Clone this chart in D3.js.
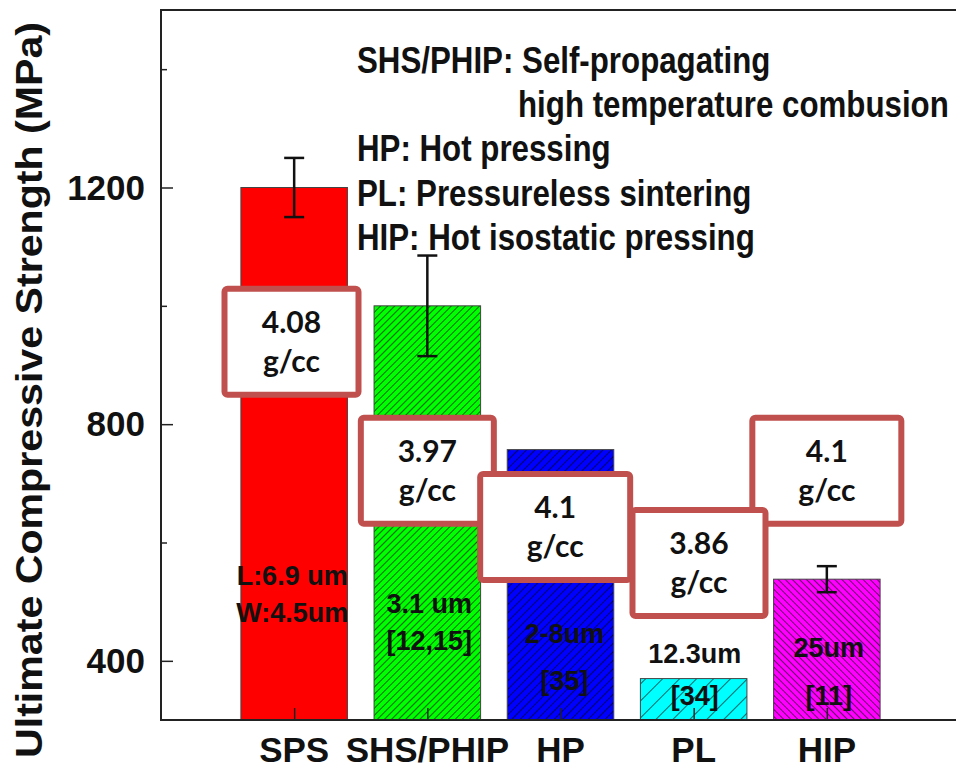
<!DOCTYPE html>
<html>
<head>
<meta charset="utf-8">
<script src="https://cdn.jsdelivr.net/npm/d3@7/dist/d3.min.js"></script>
<style>
  body { margin: 0; background: #fff; }
  svg text { font-family: "Liberation Sans", Arial, sans-serif; fill: #111; }
</style>
</head>
<body>
<svg id="chart" width="956" height="770"></svg>
<script>
// values
var categories = ["SPS", "SHS/PHIP", "HP", "PL", "HIP"];
var strengths = [1200, 1000, 757, 370, 538];
var errors = [50, 85, 0, 0, 22];
var grainLabels = [["L:6.9 um", "W:4.5um"], ["3.1 um", "[12,15]"], ["2-8um", "[35]"], ["12.3um", "[34]"], ["25um", "[11]"]];
var densities = ["4.08", "3.97", "4.1", "3.86", "4.1"];
var yMajorTicks = [400, 800, 1200];
var yMinorTicks = [600, 1000, 1400];
var legendLines = ["SHS/PHIP: Self-propagating", "high temperature combusion", "HP: Hot pressing", "PL: Pressureless sintering", "HIP: Hot isostatic pressing"];

// styling / placement (kept apart from the values)
var barColors = ["#ff0000", "#00ff00", "#0000ff", "#00ffff", "#ff00ff"];
var hatchGap = [0, 5, 6, 12, 5];          // 0 = solid fill
var hatchAngle = [0, 45, 45, 45, -45];
var labelBase = [[528, 466], [481, 418], [430, 351], [396, 325], [406, 325]]; // baselines, in MPa
var labelShift = [-2, 2, 4, 1, 2];
var boxCenter = [0.98, 2.0, 2.96, 4.04, 5.0];   // x units
var boxTop = [1034, 816, 721, 660, 816];        // MPa
var boxWidth = [134, 133, 150, 133, 149];
var boxHeight = 106;
var boxOrder = [0, 1, 2, 4, 3];

var svg = d3.select("#chart");
var margin = {left: 161, top: 10, bottom: 720, right: 960};

var x = d3.scaleLinear().domain([0, 6]).range([margin.left, margin.right]);
var y = d3.scaleLinear().domain([300, 1500]).range([margin.bottom, margin.top]);
var barW = x(0.8) - x(0);

// hatch patterns
var defs = svg.append("defs");
categories.forEach(function(c, i) {
    if (!hatchGap[i]) return;
    var p = defs.append("pattern")
        .attr("id", "hatch" + i)
        .attr("patternUnits", "userSpaceOnUse")
        .attr("width", hatchGap[i]).attr("height", hatchGap[i])
        .attr("patternTransform", "rotate(" + hatchAngle[i] + ")");
    p.append("rect").attr("width", hatchGap[i]).attr("height", hatchGap[i]).attr("fill", barColors[i]);
    p.append("line").attr("x1", 0).attr("y1", 0).attr("x2", 0).attr("y2", hatchGap[i])
        .attr("stroke", "#000").attr("stroke-width", 1.2);
});

// bars
svg.selectAll("rect.bar").data(strengths).enter().append("rect")
    .attr("class", "bar")
    .attr("x", function(d, i) { return x(i + 1) - barW / 2; })
    .attr("y", function(d) { return y(d); })
    .attr("width", barW)
    .attr("height", function(d) { return y(300) - y(d); })
    .attr("fill", function(d, i) { return hatchGap[i] ? "url(#hatch" + i + ")" : barColors[i]; })
    .attr("stroke", "#444").attr("stroke-width", 1);

// error bars
strengths.forEach(function(d, i) {
    if (!errors[i]) return;
    var cx = x(i + 1);
    var g = svg.append("g").attr("stroke", "#111").attr("stroke-width", 2.5);
    g.append("line").attr("x1", cx).attr("x2", cx).attr("y1", y(d + errors[i])).attr("y2", y(d - errors[i]));
    g.append("line").attr("x1", cx - 10).attr("x2", cx + 10).attr("y1", y(d + errors[i])).attr("y2", y(d + errors[i]));
    g.append("line").attr("x1", cx - 10).attr("x2", cx + 10).attr("y1", y(d - errors[i])).attr("y2", y(d - errors[i]));
});

// grain size / reference labels inside the bars
grainLabels.forEach(function(lines, i) {
    lines.forEach(function(t, j) {
        svg.append("text")
            .attr("x", x(i + 1) + labelShift[i])
            .attr("y", y(labelBase[i][j]))
            .attr("text-anchor", "middle")
            .style("font-size", "27px").style("font-weight", "bold")
            .text(t);
    });
});

// frame and axes
svg.append("rect")
    .attr("x", margin.left).attr("y", margin.top)
    .attr("width", margin.right - margin.left).attr("height", margin.bottom - margin.top)
    .attr("fill", "none").attr("stroke", "#222").attr("stroke-width", 2);

var yAxis = d3.axisRight(y).tickValues(yMajorTicks).tickSize(12).tickFormat("");
svg.append("g").attr("transform", "translate(" + margin.left + ",0)").call(yAxis)
    .call(function(g) { g.select(".domain").remove(); g.selectAll("line").attr("stroke", "#222").attr("stroke-width", 1.5); });
var yMinor = d3.axisRight(y).tickValues(yMinorTicks).tickSize(6).tickFormat("");
svg.append("g").attr("transform", "translate(" + margin.left + ",0)").call(yMinor)
    .call(function(g) { g.select(".domain").remove(); g.selectAll("line").attr("stroke", "#222").attr("stroke-width", 1.5); });

svg.selectAll("text.ytick").data(yMajorTicks).enter().append("text")
    .attr("class", "ytick")
    .attr("x", margin.left - 16)
    .attr("y", function(d) { return y(d) + 12; })
    .attr("text-anchor", "end")
    .style("font-size", "35px").style("font-weight", "bold")
    .text(function(d) { return d; });

var xAxis = d3.axisTop(x).tickValues([1, 2, 3, 4, 5]).tickSize(12).tickFormat("");
svg.append("g").attr("transform", "translate(0," + margin.bottom + ")").call(xAxis)
    .call(function(g) { g.select(".domain").remove(); g.selectAll("line").attr("stroke", "#222").attr("stroke-width", 1.5); });

svg.selectAll("text.xlab").data(categories).enter().append("text")
    .attr("class", "xlab")
    .attr("x", function(d, i) { return x(i + 1); })
    .attr("y", 762)
    .attr("text-anchor", "middle")
    .style("font-size", "35px").style("font-weight", "bold")
    .text(function(d) { return d; });

svg.append("text")
    .attr("transform", "translate(42,390) rotate(-90)")
    .attr("text-anchor", "middle")
    .attr("textLength", 736).attr("lengthAdjust", "spacingAndGlyphs")
    .style("font-size", "36px").style("font-weight", "bold")
    .text("Ultimate Compressive Strength (MPa)");

// density call-out boxes
boxOrder.forEach(function(i) {
    var cx = x(boxCenter[i]), top = y(boxTop[i]) + 3;
    svg.append("rect")
        .attr("x", cx - boxWidth[i] / 2).attr("y", top)
        .attr("width", boxWidth[i]).attr("height", boxHeight)
        .attr("rx", 3)
        .attr("fill", "#fff").attr("stroke", "#c0504d").attr("stroke-width", 6);
    [densities[i], "g/cc"].forEach(function(t, j) {
        svg.append("text")
            .attr("x", cx).attr("y", top + 44 + j * 39)
            .attr("text-anchor", "middle")
            .style("font-family", "Lato, 'Open Sans', sans-serif")
            .style("font-size", "30px").style("font-weight", "bold")
            .text(t);
    });
});

// legend of abbreviations (condensed bold face, like Arial Narrow)
var legendX = [357, 518, 357, 357, 357];
legendLines.forEach(function(t, i) {
    svg.append("text")
        .attr("transform", "translate(" + legendX[i] + "," + (73 + i * 44.2) + ") scale(0.845,1)")
        .style("font-size", "37px").style("font-weight", "bold")
        .text(t);
});
</script>
</body>
</html>
